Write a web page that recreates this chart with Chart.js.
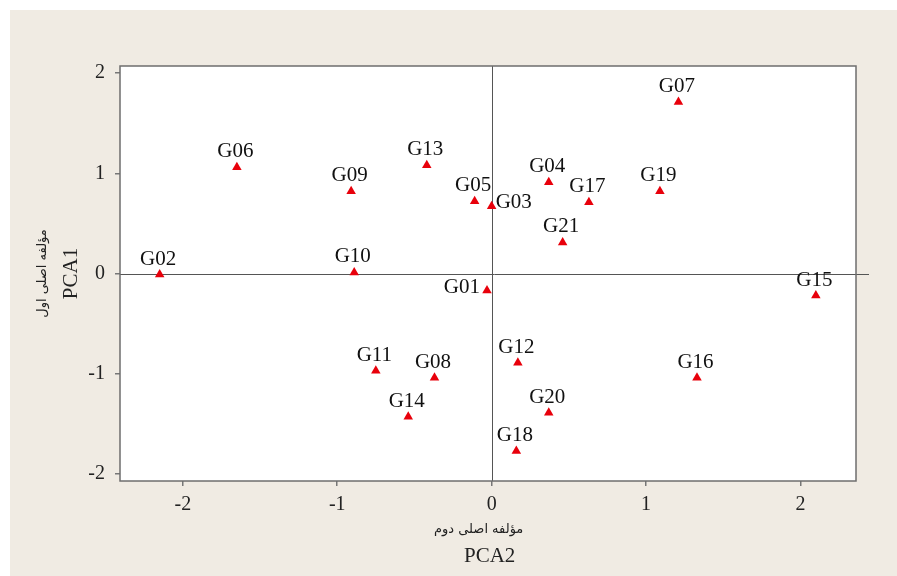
<!DOCTYPE html>
<html>
<head>
<meta charset="utf-8">
<script src="https://cdn.jsdelivr.net/npm/chart.js@4/dist/chart.umd.min.js"></script>
<style>
  html, body { margin: 0; padding: 0; background: #ffffff; }
  #wrap { width: 897px; height: 576px; }
</style>
</head>
<body>
<div id="wrap"><canvas id="c" width="897" height="576"></canvas></div>
<script>
// Genotype names and their scores on the two principal components
const genotypes = ['G01','G02','G03','G04','G05','G06','G07','G08','G09','G10','G11',
                   'G12','G13','G14','G15','G16','G17','G18','G19','G20','G21'];
const pca2 = [-0.03, -2.15, 0.00, 0.37, -0.11, -1.65, 1.21, -0.37, -0.91, -0.89, -0.75,
              0.17, -0.42, -0.54, 2.10, 1.33, 0.63, 0.16, 1.09, 0.37, 0.46];
const pca1 = [-0.17, -0.01, 0.67, 0.91, 0.72, 1.06, 1.71, -1.04, 0.82, 0.01, -0.97,
              -0.89, 1.08, -1.43, -0.22, -1.04, 0.71, -1.77, 0.82, -1.39, 0.31];

const xTicks = [-2, -1, 0, 1, 2];
const yTicks = [-2, -1, 0, 1, 2];

const xTitleFa = 'مؤلفه اصلی دوم';
const xTitleEn = 'PCA2';
const yTitleFa = 'مؤلفه اصلی اول';
const yTitleEn = 'PCA1';

// labels that sit beside their marker instead of above it
const labelSide = { G01: 'left', G03: 'right' };

const serif = '"Liberation Serif", "Times New Roman", serif';
const persian = '"DejaVu Sans", sans-serif';

const points = genotypes.map((g, i) => ({ x: pca2[i], y: pca1[i], name: g }));

const decor = {
  id: 'decor',
  beforeDraw(chart) {
    const ctx = chart.ctx;
    ctx.save();
    ctx.fillStyle = '#ffffff';
    ctx.fillRect(0, 0, chart.width, chart.height);
    ctx.fillStyle = '#f0ebe3';
    ctx.fillRect(10, 10, chart.width - 10, chart.height - 10);
    const a = chart.chartArea;
    ctx.fillStyle = '#ffffff';
    ctx.fillRect(a.left, a.top, a.right - a.left, a.bottom - a.top);
    ctx.restore();
  },
  beforeDatasetsDraw(chart) {
    const ctx = chart.ctx;
    const a = chart.chartArea;
    const xs = chart.scales.x, ys = chart.scales.y;
    const x0 = Math.round(xs.getPixelForValue(0)) + 0.5;
    const y0 = Math.round(ys.getPixelForValue(0)) + 0.5;
    ctx.save();
    // reference lines through the origin
    ctx.strokeStyle = '#555555';
    ctx.lineWidth = 1;
    ctx.beginPath();
    ctx.moveTo(a.left, y0);
    ctx.lineTo(a.right + 13, y0);
    ctx.moveTo(x0, a.top);
    ctx.lineTo(x0, a.bottom);
    ctx.stroke();
    // frame of the plotting area
    ctx.strokeStyle = '#6e6e6e';
    ctx.lineWidth = 1.5;
    ctx.strokeRect(a.left, a.top, a.right - a.left, a.bottom - a.top);
    ctx.restore();
  },
  afterDatasetsDraw(chart) {
    const ctx = chart.ctx;
    const meta = chart.getDatasetMeta(0);
    ctx.save();
    ctx.font = '21px ' + serif;
    ctx.fillStyle = '#111111';
    ctx.textBaseline = 'alphabetic';
    meta.data.forEach((el, i) => {
      const name = genotypes[i];
      const side = labelSide[name];
      if (side === 'left') {
        ctx.textAlign = 'right';
        ctx.fillText(name, el.x - 7, el.y + 2);
      } else if (side === 'right') {
        ctx.textAlign = 'left';
        ctx.fillText(name, el.x + 4, el.y + 2);
      } else {
        ctx.textAlign = 'center';
        ctx.fillText(name, el.x - 1.5, el.y - 10);
      }
    });
    ctx.restore();
  },
  afterDraw(chart) {
    const ctx = chart.ctx;
    const cx = chart.scales.x.getPixelForValue(0);
    const cy = chart.scales.y.getPixelForValue(0);
    ctx.save();
    ctx.fillStyle = '#222222';
    ctx.textAlign = 'center';
    ctx.textBaseline = 'alphabetic';
    // horizontal axis titles
    ctx.font = '13px ' + persian;
    ctx.fillText(xTitleFa, cx - 13, 533);
    ctx.font = '21px ' + serif;
    ctx.fillText(xTitleEn, cx - 2, 562);
    // vertical axis titles
    ctx.save();
    ctx.translate(77, cy);
    ctx.rotate(-Math.PI / 2);
    ctx.font = '21px ' + serif;
    ctx.fillText(yTitleEn, 0, 0);
    ctx.restore();
    ctx.save();
    ctx.translate(46, cy);
    ctx.rotate(-Math.PI / 2);
    ctx.font = '13px ' + persian;
    ctx.fillText(yTitleFa, 0, 0);
    ctx.restore();
    ctx.restore();
  }
};

new Chart(document.getElementById('c'), {
  type: 'scatter',
  data: {
    datasets: [{
      data: points,
      pointStyle: 'triangle',
      pointRadius: 5.5,
      pointHoverRadius: 5.5,
      backgroundColor: '#e8000b',
      borderColor: '#e8000b',
      borderWidth: 0
    }]
  },
  options: {
    responsive: false,
    animation: false,
    events: [],
    layout: { padding: { top: 66, right: 41, left: 0, bottom: 0 } },
    plugins: { legend: { display: false }, tooltip: { enabled: false } },
    scales: {
      x: {
        type: 'linear',
        min: -2.407,
        max: 2.36,
        afterBuildTicks: s => { s.ticks = xTicks.map(v => ({ value: v })); },
        afterFit: s => { s.height = 95; },
        border: { display: false },
        grid: { drawOnChartArea: false, drawTicks: true, tickLength: 5, tickColor: '#777777', lineWidth: 1.5 },
        ticks: { font: { family: serif, size: 20 }, color: '#222222', padding: 7, maxRotation: 0 }
      },
      y: {
        type: 'linear',
        min: -2.07,
        max: 2.07,
        afterBuildTicks: s => { s.ticks = yTicks.map(v => ({ value: v })); },
        afterFit: s => { s.width = 120; },
        border: { display: false },
        grid: { drawOnChartArea: false, drawTicks: true, tickLength: 5, tickColor: '#777777', lineWidth: 1.5 },
        ticks: { font: { family: serif, size: 20 }, color: '#222222', padding: 10 }
      }
    }
  },
  plugins: [decor]
});
</script>
</body>
</html>
